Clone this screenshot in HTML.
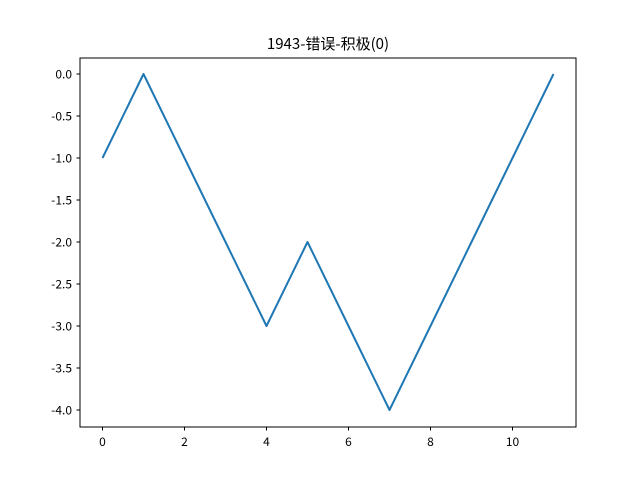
<!DOCTYPE html>
<html><head><meta charset="utf-8"><style>
body{margin:0;background:#fff}
svg text{font-family:"WenQuanYi Zen Hei","Noto Sans CJK SC",sans-serif;fill:#000}
</style></head><body>
<svg id="chart" width="640" height="480">
<rect x="0" y="0" width="640" height="480" fill="#fff"/>
<text x="328" y="49" text-anchor="middle" font-size="15">1943-错误-积极(0)</text>
<g id="xticks"></g>
<g id="yticks"></g>
<path id="line" fill="none" stroke="#1f77b4" stroke-width="2" stroke-linejoin="round"/>
<rect x="80" y="58" width="496" height="369" fill="none" stroke="#000" stroke-width="1"/>
</svg>
<script>
const xValues=[0,1,2,3,4,5,6,7,8,9,10,11];
const yValues=[-1,0,-1,-2,-3,-2,-3,-4,-3,-2,-1,0];
const xTicks=[0,2,4,6,8,10];
const yTicks=[0,-0.5,-1,-1.5,-2,-2.5,-3,-3.5,-4];
const yTickLabels=["0.0","-0.5","-1.0","-1.5","-2.0","-2.5","-3.0","-3.5","-4.0"];
const NS="http://www.w3.org/2000/svg";
function sx(v){return 102.5+v*41;}
function sy(v){return 74-v*84;}
const xg=document.getElementById('xticks'),yg=document.getElementById('yticks');
xTicks.forEach(t=>{
 const l=document.createElementNS(NS,'line');
 l.setAttribute('x1',sx(t));l.setAttribute('x2',sx(t));l.setAttribute('y1',427);l.setAttribute('y2',430.5);l.setAttribute('stroke','#000');
 
 
 xg.appendChild(l);
 const tx=document.createElementNS(NS,'text');
 tx.setAttribute('x',sx(t));tx.setAttribute('y',446);tx.setAttribute('text-anchor','middle');tx.setAttribute('font-size','12');
 tx.textContent=t;
 
 
 xg.appendChild(tx);
});
yTicks.forEach((t,i)=>{
 const l=document.createElementNS(NS,'line');
 l.setAttribute('x1',76.5);l.setAttribute('x2',80);l.setAttribute('y1',sy(t));l.setAttribute('y2',sy(t));l.setAttribute('stroke','#000');
 
 
 yg.appendChild(l);
 const tx=document.createElementNS(NS,'text');
 tx.setAttribute('x',72);tx.setAttribute('y',sy(t)+4.5);tx.setAttribute('text-anchor','end');tx.setAttribute('font-size','12');
 tx.textContent=yTickLabels[i];
 
 
 yg.appendChild(tx);
});
document.getElementById('line').setAttribute('d',xValues.map((x,i)=>(i?'L':'M')+sx(x)+','+sy(yValues[i])).join(' '));
</script>
</body></html>
